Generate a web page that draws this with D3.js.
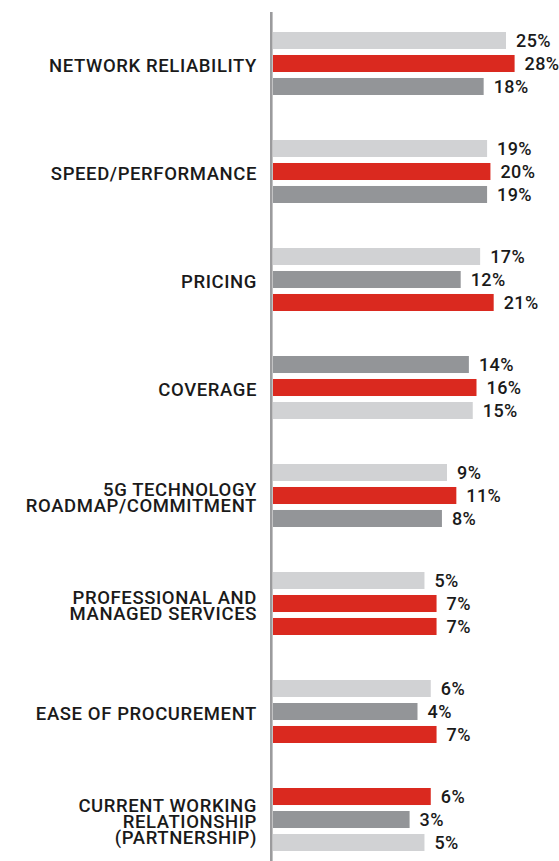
<!DOCTYPE html>
<html>
<head>
<meta charset="utf-8">
<script src="https://cdn.jsdelivr.net/npm/d3@7"></script>
<style>
  html, body { margin: 0; padding: 0; background: #ffffff; }
  svg { display: block; }
</style>
</head>
<body>
<svg id="chart" width="559" height="861"></svg>
<script>
// ---- Data ----
const categories = [
  "NETWORK RELIABILITY",
  "SPEED/PERFORMANCE",
  "PRICING",
  "COVERAGE",
  "5G TECHNOLOGY|ROADMAP/COMMITMENT",
  "PROFESSIONAL AND|MANAGED SERVICES",
  "EASE OF PROCUREMENT",
  "CURRENT WORKING|RELATIONSHIP|(PARTNERSHIP)"
];
// values of the top, middle and bottom bar of each category
const topBarValues    = [25, 19, 17, 14, 9, 5, 6, 6];
const middleBarValues = [28, 20, 12, 16, 11, 7, 4, 3];
const bottomBarValues = [18, 19, 21, 15, 8, 7, 7, 5];
// shade of each bar
const topBarShades    = ["light", "light", "light", "dark", "light", "light", "light", "red"];
const middleBarShades = ["red", "red", "dark", "red", "red", "red", "dark", "dark"];
const bottomBarShades = ["dark", "dark", "red", "light", "dark", "red", "red", "light"];

const shadeColors = { light: "#d1d2d4", red: "#da291f", dark: "#939598" };

// ---- Layout ----
const svg = d3.select("#chart");
const axisX = 271.3;
const barStart = 273;

const rows = categories.map((c, i) => ({
  category: c,
  bars: [
    { pos: 0, value: topBarValues[i], shade: topBarShades[i] },
    { pos: 1, value: middleBarValues[i], shade: middleBarShades[i] },
    { pos: 2, value: bottomBarValues[i], shade: bottomBarShades[i] }
  ]
}));

const y0 = d3.scaleBand()
  .domain(categories)
  .range([32, 851])
  .paddingInner(0.4167)
  .paddingOuter(0);

const y1 = d3.scaleBand()
  .domain([0, 1, 2])
  .range([0, y0.bandwidth()])
  .paddingInner(0.26)
  .paddingOuter(0);

// the original graphic draws bar ends on a compressed (square-root) scale
const x = d3.scaleSqrt()
  .domain([0, 28])
  .range([358.5, 358.5 + 29.5 * Math.sqrt(28)]);

const groups = svg.selectAll("g.cat")
  .data(rows)
  .join("g")
  .attr("class", "cat")
  .attr("transform", d => `translate(0,${y0(d.category)})`);

groups.selectAll("rect")
  .data(d => d.bars)
  .join("rect")
  .attr("x", barStart)
  .attr("y", b => y1(b.pos))
  .attr("width", b => x(b.value) - barStart)
  .attr("height", y1.bandwidth())
  .attr("fill", b => shadeColors[b.shade]);

groups.selectAll("text.val")
  .data(d => d.bars)
  .join("text")
  .attr("class", "val")
  .attr("x", b => x(b.value) + 10)
  .attr("y", b => y1(b.pos) + y1.bandwidth() / 2 + 6.5)
  .attr("font-family", "Roboto, 'Open Sans', sans-serif")
  .attr("font-weight", 500)
  .attr("font-size", 18)
  .attr("letter-spacing", 0.4)
  .attr("fill", "#1a1a1a")
  .text(b => b.value + "%");

// category labels
const lineH = 16;
groups.append("text")
  .attr("class", "cat-label")
  .attr("text-anchor", "end")
  .attr("font-family", "Roboto, 'Open Sans', sans-serif")
  .attr("font-weight", 500)
  .attr("font-size", 18.5)
  .attr("letter-spacing", 0.6)
  .attr("fill", "#1a1a1a")
  .each(function(d) {
    const lines = d.category.split("|");
    const mid = y0.bandwidth() / 2 + 2;
    const first = mid - (lines.length - 1) * lineH / 2 + 6.5;
    d3.select(this).selectAll("tspan")
      .data(lines)
      .join("tspan")
      .attr("x", 257)
      .attr("y", (l, i) => first + i * lineH)
      .text(l => l);
  });

// vertical axis line
svg.append("line")
  .attr("x1", axisX).attr("x2", axisX)
  .attr("y1", 12).attr("y2", 861)
  .attr("stroke", "#9b9b9d")
  .attr("stroke-width", 2.6);
</script>
</body>
</html>
